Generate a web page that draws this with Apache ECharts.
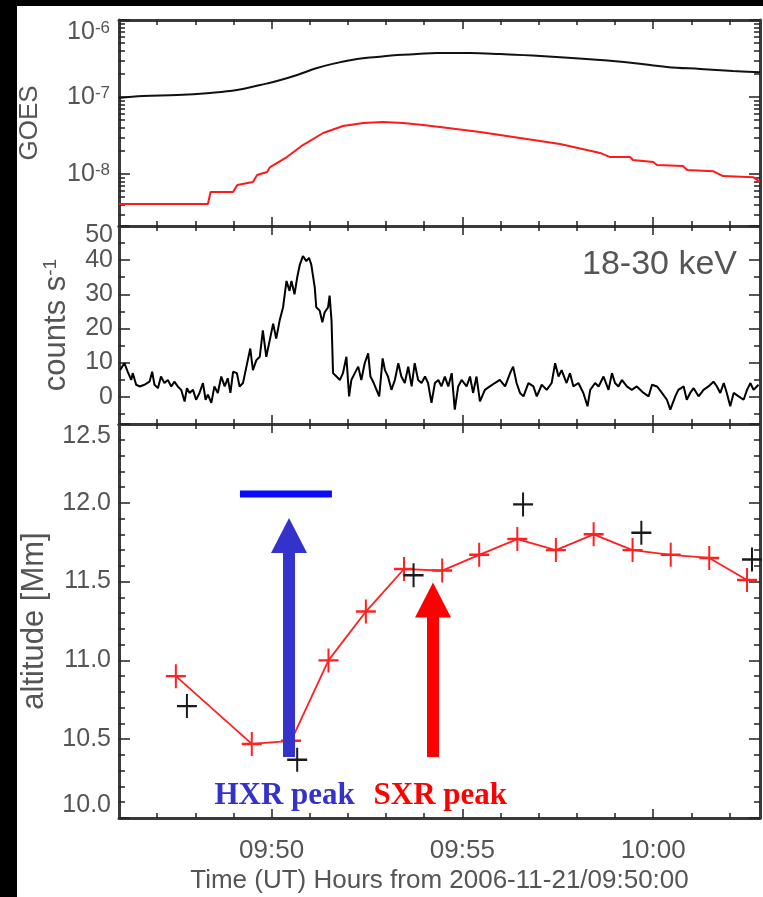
<!DOCTYPE html>
<html><head><meta charset="utf-8">
<script src="https://cdn.jsdelivr.net/npm/echarts@6/dist/echarts.min.js"></script>
<style>
html,body{margin:0;padding:0;background:#000;width:763px;height:897px;overflow:hidden}
#c{position:absolute;left:17px;top:6px;width:746px;height:891px;background:#fff}
</style></head><body><div id="c"></div>
<script>
// ---------------- data (time in minutes from 2006-11-21 09:50:00) ----------------
const X_MIN = -4, X_MAX = 12.8;
const xLabelMinutes = [0, 5, 10];
const xMinorMinutes = [-3, -2, -1, 1, 2, 3, 4, 6, 7, 8, 9, 11, 12];

// GOES long channel (black) and short channel (red), W m^-2
const goesLongTime = [-4.0, -3.37, -2.48, -1.61, -0.91, -0.30, 0.14, 0.67, 1.19, 1.71, 2.24, 2.76, 3.29, 3.81, 4.34, 5.20, 5.99, 7.04, 8.61, 9.47, 10.36, 11.23, 12.09, 12.8];
const goesLongFlux = [9.7e-8, 1.03e-7, 1.06e-7, 1.13e-7, 1.23e-7, 1.43e-7, 1.61e-7, 1.93e-7, 2.38e-7, 2.77e-7, 3.12e-7, 3.31e-7, 3.51e-7, 3.61e-7, 3.72e-7, 3.72e-7, 3.61e-7, 3.41e-7, 3.03e-7, 2.77e-7, 2.46e-7, 2.31e-7, 2.18e-7, 2.1e-7];
const goesShortTime = [-4.0, -1.67, -1.60, -1.01, -0.90, -0.49, -0.38, -0.12, -0.04, 0.40, 0.82, 1.35, 1.87, 2.40, 2.92, 3.44, 3.97, 4.41, 5.46, 6.51, 7.56, 8.61, 8.87, 9.40, 9.47, 10.0, 10.10, 10.78, 10.89, 11.57, 11.83, 12.62, 12.8];
const goesShortFlux = [4.07e-9, 4.07e-9, 5.83e-9, 5.83e-9, 7.19e-9, 7.87e-9, 9.7e-9, 1.06e-8, 1.23e-8, 1.66e-8, 2.38e-8, 3.41e-8, 4.2e-8, 4.59e-8, 4.73e-8, 4.59e-8, 4.33e-8, 4.07e-8, 3.51e-8, 2.94e-8, 2.45e-8, 1.88e-8, 1.66e-8, 1.66e-8, 1.52e-8, 1.43e-8, 1.31e-8, 1.27e-8, 1.13e-8, 1.09e-8, 9.4e-9, 9.1e-9, 7.9e-9];
const goesLabelValues = [1e-8, 1e-7, 1e-6];
const goesMinorValues = [3e-9, 4e-9, 5e-9, 6e-9, 7e-9, 8e-9, 9e-9, 2e-8, 3e-8, 4e-8, 5e-8, 6e-8, 7e-8, 8e-8, 9e-8, 2e-7, 3e-7, 4e-7, 5e-7, 6e-7, 7e-7, 8e-7, 9e-7];

// RHESSI 18-30 keV count rate
const hxrTime = [
 -3.97,-3.86,-3.77,-3.68,-3.64,-3.55,-3.46,-3.33,-3.20,-3.13,
 -3.07,-2.98,-2.90,-2.81,-2.72,-2.63,-2.55,-2.46,-2.37,-2.28,
 -2.22,-2.15,-2.06,-1.98,-1.89,-1.80,-1.73,-1.67,-1.58,-1.50,
 -1.41,-1.32,-1.23,-1.15,-1.08,-1.01,-0.91,-0.84,-0.75,-0.66,
 -0.56,-0.49,-0.40,-0.31,-0.23,-0.14,-0.05,0.04,0.12,0.21,
 0.30,0.39,0.47,0.52,0.60,0.67,0.74,0.82,0.91,0.98,
 1.04,1.13,1.17,1.26,1.33,1.39,1.48,1.52,1.57,1.61,
 1.70,1.79,1.87,1.96,2.03,2.09,2.18,2.27,2.35,2.44,
 2.53,2.59,2.66,2.75,2.82,2.91,2.97,3.05,3.14,3.23,
 3.32,3.40,3.49,3.58,3.67,3.75,3.84,3.93,4.02,4.10,
 4.19,4.28,4.37,4.45,4.54,4.63,4.72,4.80,4.89,
 4.98,5.11,5.20,5.28,5.37,5.46,5.59,5.72,5.85,5.98,
 6.12,6.25,6.33,6.42,6.51,6.60,6.73,6.86,6.95,7.08,
 7.21,7.34,7.43,7.52,7.60,7.73,7.82,7.91,8.04,8.17,
 8.28,8.35,8.48,8.57,8.70,8.83,8.92,9.00,9.09,9.18,
 9.31,9.44,9.57,9.75,9.88,9.97,10.10,10.23,10.36,10.45,
 10.58,10.66,10.80,10.88,10.97,11.06,11.19,11.32,11.45,11.58,
 11.67,11.76,11.85,11.93,12.02,12.11,12.24,12.37,12.46,12.55,
 12.63,12.76];
const hxrCounts = [
 7.8,9.8,7.3,4.9,6.9,3.5,3.0,3.5,4.4,7.3,
 3.5,2.5,5.9,4.0,4.9,3.0,4.4,3.0,2.0,-1.4,
 2.5,1.1,2.0,-0.9,1.1,4.0,-0.9,0.6,-1.8,3.0,
 1.1,5.9,3.0,5.4,1.1,7.3,6.9,3.0,4.0,8.8,
 14.1,7.8,10.7,11.7,19.4,11.7,16.5,21.4,17.0,22.3,
 26.2,33.9,31.0,33.9,30.0,34.9,38.7,41.2,39.7,40.7,
 38.7,32.0,26.2,25.2,21.8,24.7,26.2,29.6,22.3,6.9,
 5.9,4.9,6.9,11.7,0.1,4.9,6.9,8.8,4.9,9.8,
 12.7,5.9,4.4,2.0,0.1,11.2,7.8,5.9,2.0,4.9,
 9.8,5.9,4.0,8.8,3.0,9.8,4.9,4.0,5.9,4.0,
 -1.8,4.0,4.9,3.0,5.9,3.0,6.9,-3.8,3.0,
 4.9,3.0,5.9,1.1,5.9,-1.4,2.0,3.0,4.0,4.9,
 3.0,6.9,8.8,4.0,1.1,0.1,4.0,3.0,0.1,3.5,
 2.0,4.0,9.8,5.9,7.8,4.0,6.9,3.0,4.0,1.1,
 -2.8,2.0,4.0,3.0,5.9,2.0,6.9,4.0,3.0,4.9,
 3.0,2.0,3.0,1.1,0.1,3.5,3.0,1.1,-0.9,-3.8,
 0.1,2.0,3.0,-0.9,1.1,2.5,0.1,2.0,3.0,4.4,
 3.0,1.1,4.0,1.1,-2.8,1.1,0.1,-0.9,2.0,4.0,
 2.0,3.5];
const countsLabelValues = [0, 10, 20, 30, 40, 50];
const countsMinorValues = [-5, 5, 15, 25, 35, 45];

// loop-top source altitude [Mm]
const altTime = [-2.51, -0.52, 0.51, 1.49, 2.47, 3.47, 4.47, 5.44, 6.44, 7.45, 8.44, 9.46, 10.46, 11.47, 12.46];
const altValue = [10.90, 10.47, 10.49, 11.00, 11.31, 11.58, 11.57, 11.67, 11.77, 11.70, 11.80, 11.70, 11.67, 11.65, 11.51];
const altObsTime = [-2.22, 0.67, 3.72, 6.59, 9.69, 12.59];
const altObsValue = [10.71, 10.37, 11.54, 11.99, 11.81, 11.64];
const altLabelValues = [10.0, 10.5, 11.0, 11.5, 12.0, 12.5];
const altMinorValues = [10.1,10.2,10.3,10.4,10.6,10.7,10.8,10.9,11.1,11.2,11.3,11.4,11.6,11.7,11.8,11.9,12.1,12.2,12.3,12.4];

// annotations (data coordinates)
const hxrBarTime = [-0.83, 1.58];
const hxrBarAlt = [12.056, 12.056];
const hxrArrowTime = 0.456, hxrArrowAlt = [10.387, 11.681], hxrHeadAlt = 11.793;
const sxrArrowTime = 4.23, sxrArrowAlt = [10.387, 11.275], sxrHeadAlt = 11.383;
const notes = [
  {text: 'HXR peak', t: 0.34, alt: 10.14, color: '#3333cc'},
  {text: 'SXR peak', t: 4.42, alt: 10.14, color: '#ff0000'}
];

// ---------------- chart ----------------
const FONT = "'Liberation Sans', Arial, sans-serif";
const TXT = '#555';
const AXC = '#3a3a3a';
const TKC = '#222';
const zip = (a, b) => a.map((v, i) => [v, b[i]]);
const pad = n => (n < 10 ? '0' : '') + n;
const fmtTime = v => { const m = Math.round(9 * 60 + 50 + v); return pad(Math.floor(m / 60)) + ':' + pad(m % 60); };

const gridBase = {left: 102, right: 3, containLabel: false, outerBoundsMode: 'none'};
const grids = [
  Object.assign({}, gridBase, {top: 14, height: 206}),
  Object.assign({}, gridBase, {top: 220, height: 198}),
  Object.assign({}, gridBase, {top: 418, height: 394})
];

function makeXAxes(g) {
  const base = {type: 'value', gridIndex: g, min: X_MIN, max: X_MAX, splitLine: {show: false}};
  const line = {show: true, onZero: false, lineStyle: {color: AXC, width: 3}};
  const noLine = {show: false, onZero: false};
  const minorTick = {show: true, inside: true, length: 5, customValues: xMinorMinutes, lineStyle: {color: TKC, width: 1.5}};
  const majorTick = {show: true, inside: true, length: 9, customValues: xLabelMinutes, lineStyle: {color: TKC, width: 1.5}};
  const last = g === 2;
  return [
    Object.assign({}, base, {position: 'bottom', axisLine: line, axisTick: minorTick,
      axisLabel: last ? {show: true, customValues: xLabelMinutes, formatter: fmtTime, margin: 20, fontSize: 26, color: TXT, fontFamily: FONT, showMinLabel: true, showMaxLabel: true} : {show: false},
      name: last ? 'Time (UT) Hours from 2006-11-21/09:50:00' : '', nameLocation: 'middle', nameGap: 50,
      nameTextStyle: {fontSize: 26, color: TXT, fontFamily: FONT}}),
    Object.assign({}, base, {position: 'top', axisLine: line, axisTick: minorTick, axisLabel: {show: false}}),
    Object.assign({}, base, {position: 'bottom', axisLine: noLine, axisTick: majorTick, axisLabel: {show: false}}),
    Object.assign({}, base, {position: 'top', axisLine: noLine, axisTick: majorTick, axisLabel: {show: false}})
  ];
}

function makeYAxes(g, c) {
  const base = {type: c.type, gridIndex: g, min: c.min, max: c.max, splitLine: {show: false}};
  if (c.type === 'log') base.logBase = 10;
  const line = {show: true, onZero: false, lineStyle: {color: AXC, width: 3}};
  const noLine = {show: false, onZero: false};
  const minorTick = {show: true, inside: true, length: 6, customValues: c.minor, lineStyle: {color: TKC, width: 1.5}};
  const majorTick = {show: true, inside: true, length: 11, customValues: c.labels, lineStyle: {color: TKC, width: 1.5}};
  const label = {show: true, customValues: c.labels, formatter: c.formatter, margin: c.margin, fontSize: 25, color: TXT,
                 fontFamily: FONT, rich: c.rich, showMinLabel: true, showMaxLabel: true, hideOverlap: false,
                 verticalAlignMaxLabel: 'top'};
  if (c.labelLineHeight) label.lineHeight = c.labelLineHeight;
  if (c.minBottom) label.verticalAlignMinLabel = 'bottom';
  return [
    Object.assign({}, base, {position: 'left', axisLine: line, axisTick: minorTick, axisLabel: label,
      name: c.name, nameLocation: 'middle', nameRotate: 90, nameGap: c.nameGap,
      nameTextStyle: {fontSize: c.nameSize, color: TXT, fontFamily: FONT, rich: c.nameRich}}),
    Object.assign({}, base, {position: 'right', axisLine: line, axisTick: minorTick, axisLabel: {show: false}}),
    Object.assign({}, base, {position: 'left', axisLine: noLine, axisTick: majorTick, axisLabel: {show: false}}),
    Object.assign({}, base, {position: 'right', axisLine: noLine, axisTick: majorTick, axisLabel: {show: false}})
  ];
}

const GOES_MIN = Math.pow(10, -8.675), GOES_MAX = 1e-6;
const goesY = makeYAxes(0, {
  type: 'log', min: GOES_MIN, max: GOES_MAX, minor: goesMinorValues, labels: goesLabelValues, margin: 9,
  formatter: v => '{b|10}{s|' + Math.round(Math.log10(v)) + '}',
  rich: {
    b: {fontSize: 25, lineHeight: 25, verticalAlign: 'bottom', color: TXT, fontFamily: FONT},
    s: {fontSize: 17, lineHeight: 17, padding: [0, 0, 16, 0], verticalAlign: 'top', color: TXT, fontFamily: FONT}
  },
  name: 'GOES', nameGap: 76, nameSize: 26
});
const countsY = makeYAxes(1, {
  type: 'value', min: -8, max: 50, minor: countsMinorValues, labels: countsLabelValues, margin: 6, labelLineHeight: 18,
  formatter: v => String(v),
  name: '{a|counts s}{s|-1}', nameGap: 46, nameSize: 31,
  nameRich: {
    a: {fontSize: 31, lineHeight: 31, verticalAlign: 'bottom', color: TXT, fontFamily: FONT},
    s: {fontSize: 19, lineHeight: 19, padding: [0, 0, 14, 0], verticalAlign: 'top', color: TXT, fontFamily: FONT}
  }
});
const altY = makeYAxes(2, {
  type: 'value', min: 10, max: 12.5, minor: altMinorValues, labels: altLabelValues, margin: 8, minBottom: true,
  formatter: v => v.toFixed(1),
  name: 'altitude [Mm]', nameGap: 69, nameSize: 31
});

const plusPath = 'path://M9,0H11V9H20V11H11V20H9V11H0V9H9Z';

const series = [
  {type: 'line', xAxisIndex: 0, yAxisIndex: 0, data: zip(goesLongTime, goesLongFlux), showSymbol: false, smooth: 0.4,
   lineStyle: {color: '#111', width: 2}},
  {type: 'line', xAxisIndex: 0, yAxisIndex: 0, data: zip(goesShortTime, goesShortFlux), showSymbol: false,
   lineStyle: {color: '#ff1a1a', width: 2}},
  {type: 'line', xAxisIndex: 4, yAxisIndex: 4, data: zip(hxrTime, hxrCounts), showSymbol: false,
   lineStyle: {color: '#000', width: 2}},
  {type: 'line', xAxisIndex: 8, yAxisIndex: 8, data: zip(altTime, altValue), symbol: plusPath, symbolSize: [20, 24], showSymbol: true,
   lineStyle: {color: '#ff2020', width: 1.8}, itemStyle: {color: '#ff2020', opacity: 1}, z: 3},
  {type: 'scatter', xAxisIndex: 8, yAxisIndex: 8, data: zip(altObsTime, altObsValue), symbol: plusPath, symbolSize: [20, 24],
   itemStyle: {color: '#1a1a1a', opacity: 1}, z: 3},
  {type: 'line', xAxisIndex: 8, yAxisIndex: 8, data: zip(hxrBarTime, hxrBarAlt), showSymbol: false,
   lineStyle: {color: '#0a0aff', width: 7}, z: 4},
  {type: 'line', xAxisIndex: 8, yAxisIndex: 8, data: hxrArrowAlt.map(a => [hxrArrowTime, a]), showSymbol: false,
   lineStyle: {color: '#3333cc', width: 12, cap: 'butt'}, z: 5},
  {type: 'scatter', xAxisIndex: 8, yAxisIndex: 8, data: [[hxrArrowTime, hxrHeadAlt]], symbol: 'triangle', symbolSize: [36, 35],
   itemStyle: {color: '#3333cc', opacity: 1}, z: 5},
  {type: 'line', xAxisIndex: 8, yAxisIndex: 8, data: sxrArrowAlt.map(a => [sxrArrowTime, a]), showSymbol: false,
   lineStyle: {color: '#ff0000', width: 12, cap: 'butt'}, z: 5},
  {type: 'scatter', xAxisIndex: 8, yAxisIndex: 8, data: [[sxrArrowTime, sxrHeadAlt]], symbol: 'triangle', symbolSize: [36, 35],
   itemStyle: {color: '#ff0000', opacity: 1}, z: 5}
].concat(notes.map(n => ({
  type: 'scatter', xAxisIndex: 8, yAxisIndex: 8, data: [[n.t, n.alt]], symbolSize: 0, z: 6,
  itemStyle: {opacity: 1},
  label: {show: true, position: 'inside', formatter: n.text, color: n.color, fontFamily: "'Liberation Serif', 'Times New Roman', serif",
          fontWeight: 'bold', fontSize: 31, opacity: 1}
})));

const chart = echarts.init(document.getElementById('c'), null, {renderer: 'canvas'});
chart.setOption({
  animation: false,
  backgroundColor: '#fff',
  grid: grids,
  xAxis: [].concat(makeXAxes(0), makeXAxes(1), makeXAxes(2)),
  yAxis: [].concat(goesY, countsY, altY),
  graphic: [{type: 'text', right: 26, top: 242, style: {text: '18-30 keV', fontSize: 34, fill: TXT, fontFamily: FONT}}],
  series: series
});
</script></body></html>
